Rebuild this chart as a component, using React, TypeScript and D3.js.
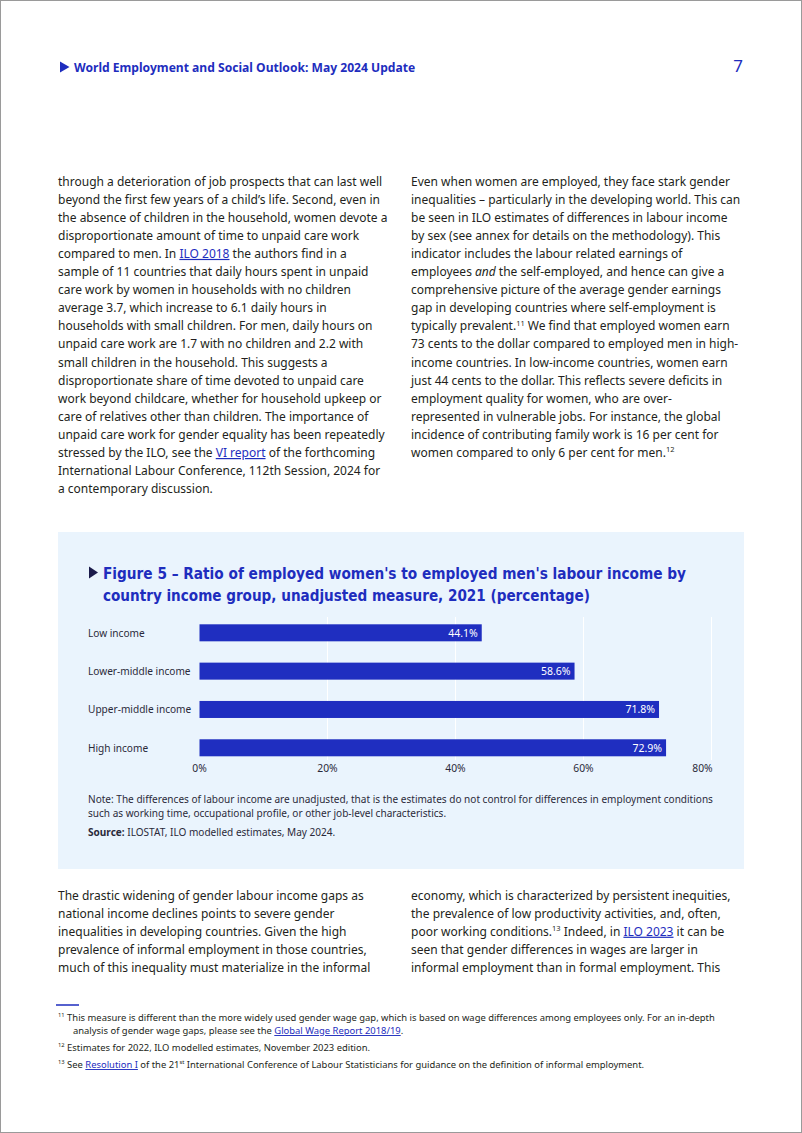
import React from "react";
import * as d3 from "d3";

const categories = ["Low income", "Lower-middle income", "Upper-middle income", "High income"];
const values = [44.1, 58.6, 71.8, 72.9];
const tickValues = [0, 20, 40, 60, 80];
const tickLabels = ["0%", "20%", "40%", "60%", "80%"];

type Seg = string | { t: string; link?: boolean; i?: boolean; sup?: boolean; b?: boolean };

const leftCol: Seg[][] = [
  ["through a deterioration of job prospects that can last well"],
  ["beyond the first few years of a child\u2019s life. Second, even in"],
  ["the absence of children in the household, women devote a"],
  ["disproportionate amount of time to unpaid care work"],
  ["compared to men. In ", { t: "ILO 2018", link: true }, " the authors find in a"],
  ["sample of 11 countries that daily hours spent in unpaid"],
  ["care work by women in households with no children"],
  ["average 3.7, which increase to 6.1 daily hours in"],
  ["households with small children. For men, daily hours on"],
  ["unpaid care work are 1.7 with no children and 2.2 with"],
  ["small children in the household. This suggests a"],
  ["disproportionate share of time devoted to unpaid care"],
  ["work beyond childcare, whether for household upkeep or"],
  ["care of relatives other than children. The importance of"],
  ["unpaid care work for gender equality has been repeatedly"],
  ["stressed by the ILO, see the ", { t: "VI report", link: true }, " of the forthcoming"],
  ["International Labour Conference, 112th Session, 2024 for"],
  ["a contemporary discussion."],
];

const rightCol: Seg[][] = [
  ["Even when women are employed, they face stark gender"],
  ["inequalities \u2013 particularly in the developing world. This can"],
  ["be seen in ILO estimates of differences in labour income"],
  ["by sex (see annex for details on the methodology). This"],
  ["indicator includes the labour related earnings of"],
  ["employees ", { t: "and", i: true }, " the self-employed, and hence can give a"],
  ["comprehensive picture of the average gender earnings"],
  ["gap in developing countries where self-employment is"],
  ["typically prevalent.", { t: "11", sup: true }, " We find that employed women earn"],
  ["73 cents to the dollar compared to employed men in high-"],
  ["income countries. In low-income countries, women earn"],
  ["just 44 cents to the dollar. This reflects severe deficits in"],
  ["employment quality for women, who are over-"],
  ["represented in vulnerable jobs. For instance, the global"],
  ["incidence of contributing family work is 16 per cent for"],
  ["women compared to only 6 per cent for men.", { t: "12", sup: true }],
];

const bottomLeft: Seg[][] = [
  ["The drastic widening of gender labour income gaps as"],
  ["national income declines points to severe gender"],
  ["inequalities in developing countries. Given the high"],
  ["prevalence of informal employment in those countries,"],
  ["much of this inequality must materialize in the informal"],
];

const bottomRight: Seg[][] = [
  ["economy, which is characterized by persistent inequities,"],
  ["the prevalence of low productivity activities, and, often,"],
  ["poor working conditions.", { t: "13", sup: true }, " Indeed, in ", { t: "ILO 2023", link: true }, " it can be"],
  ["seen that gender differences in wages are larger in"],
  ["informal employment than in formal employment. This"],
];

const BLUE = "#1e2dbe";
const TEXT = "#231f20";
const BODY_FONT = "'Noto Sans', 'Open Sans', sans-serif";

function RichLine({ segs, x, y, size, fill = TEXT, family = BODY_FONT }: { segs: Seg[]; x: number; y: number; size: number; fill?: string; family?: string }) {
  const shift = size * 0.4;
  let prevSup = false;
  return (
    <text x={x} y={y} fontSize={size} fill={fill} fontFamily={family}>
      {segs.map((s, i) => {
        const seg = typeof s === "string" ? { t: s } : s;
        let dy: number | undefined = undefined;
        if (seg.sup && !prevSup) dy = -shift;
        else if (!seg.sup && prevSup) dy = shift;
        prevSup = !!seg.sup;
        return (
          <tspan
            key={i}
            dy={dy}
            fontSize={seg.sup ? size * 0.62 : undefined}
            fill={seg.link ? BLUE : undefined}
            textDecoration={seg.link ? "underline" : undefined}
            fontStyle={seg.i ? "italic" : undefined}
            fontWeight={seg.b ? "bold" : undefined}
          >
            {seg.t}
          </tspan>
        );
      })}
    </text>
  );
}

function Column({ lines, x, y0, step, size }: { lines: Seg[][]; x: number; y0: number; step: number; size: number }) {
  return (
    <g>
      {lines.map((l, i) => (
        <RichLine key={i} segs={l} x={x} y={y0 + i * step} size={size} />
      ))}
    </g>
  );
}

export default function App() {
  const W = 802;
  const H = 1133;
  const x = d3.scaleLinear().domain([0, 80]).range([199.5, 711.5]);
  const y = d3.scaleBand<string>().domain(categories).range([624.3, 756.3]).paddingInner(0.556).paddingOuter(0);
  const bw = y.bandwidth();
  const chartFont = "'Noto Sans', 'Open Sans', sans-serif";

  const BODY_SIZE = 12.0;
  const STEP = 18.1;

  return (
    <svg
      width={W}
      height={H}
      viewBox={`0 0 ${W} ${H}`}
      style={{ position: "absolute", left: 0, top: 0, background: "#fff" }}
    >
      <rect x={0.5} y={0.5} width={W - 1} height={H - 1} fill="#fff" stroke="#9a9a9a" strokeWidth={1} />

      {/* Header */}
      <path d="M60,61.5 L69.5,67 L60,72.5 Z" fill={BLUE} />
      <text x={74} y={71.5} fontSize={12.1} fontWeight="bold" fill={BLUE} fontFamily={BODY_FONT}>
        World Employment and Social Outlook: May 2024 Update
      </text>
      <text x={743} y={72} fontSize={17} fill={BLUE} fontFamily={BODY_FONT} textAnchor="end">
        7
      </text>

      {/* Body columns */}
      <Column lines={leftCol} x={58} y0={185.5} step={STEP} size={BODY_SIZE} />
      <Column lines={rightCol} x={411} y0={185.5} step={STEP} size={BODY_SIZE} />

      {/* Figure box */}
      <rect x={58} y={532} width={686} height={337} fill="#eaf4fd" />
      <path d="M89,566.5 L98,572.5 L89,578.5 Z" fill="#1a1a4a" />
      <text x={103} y={579} fontSize={16} fontWeight="bold" fill={BLUE} fontFamily="'DejaVu Sans Condensed', 'Roboto', sans-serif" textLength={583} lengthAdjust="spacingAndGlyphs">
        Figure 5 – Ratio of employed women's to employed men's labour income by
      </text>
      <text x={103} y={601} fontSize={16} fontWeight="bold" fill={BLUE} fontFamily="'DejaVu Sans Condensed', 'Roboto', sans-serif" textLength={487} lengthAdjust="spacingAndGlyphs">
        country income group, unadjusted measure, 2021 (percentage)
      </text>

      {/* Gridlines */}
      {tickValues.slice(1).map((t) => (
        <line key={t} x1={x(t)} x2={x(t)} y1={617} y2={760} stroke="#ffffff" strokeWidth={1} />
      ))}

      {/* Bars */}
      {categories.map((c, i) => (
        <g key={c}>
          <rect x={x(0)} y={y(c)} width={x(values[i]) - x(0)} height={bw} fill="#1f2ec0" />
          <text
            x={x(values[i]) - 4}
            y={(y(c) as number) + bw / 2}
            dominantBaseline="central"
            textAnchor="end"
            fontSize={10.5}
            fill="#ffffff"
            fontFamily={chartFont}
          >
            {values[i].toFixed(1)}%
          </text>
          <text x={88} y={(y(c) as number) + bw / 2} dominantBaseline="central" fontSize={10.1} fill="#2a2a3a" fontFamily={chartFont}>
            {c}
          </text>
        </g>
      ))}

      {/* X axis tick labels */}
      {tickValues.map((t, i) => (
        <text
          key={t}
          x={i === tickValues.length - 1 ? x(t) - 9 : x(t)}
          y={768}
          dominantBaseline="central"
          textAnchor="middle"
          fontSize={10.3}
          fill="#2a2a3a"
          fontFamily={chartFont}
        >
          {tickLabels[i]}
        </text>
      ))}

      {/* Note and source */}
      <text x={88} y={802.5} fontSize={10.05} fill="#2a2a3a" fontFamily={chartFont}>
        Note: The differences of labour income are unadjusted, that is the estimates do not control for differences in employment conditions
      </text>
      <text x={88} y={816.5} fontSize={10.05} fill="#2a2a3a" fontFamily={chartFont}>
        such as working time, occupational profile, or other job-level characteristics.
      </text>
      <text x={88} y={835.5} fontSize={10.05} fill="#2a2a3a" fontFamily={chartFont}>
        <tspan fontWeight="bold">Source:</tspan> ILOSTAT, ILO modelled estimates, May 2024.
      </text>

      {/* Bottom columns */}
      <Column lines={bottomLeft} x={58} y0={899.5} step={STEP} size={BODY_SIZE} />
      <Column lines={bottomRight} x={411} y0={899.5} step={STEP} size={BODY_SIZE} />

      {/* Footnotes */}
      <line x1={56} x2={79} y1={1005} y2={1005} stroke={BLUE} strokeWidth={1.5} />
      <RichLine
        segs={[{ t: "11", sup: true }, " This measure is different than the more widely used gender wage gap, which is based on wage differences among employees only. For an in-depth"]}
        x={58}
        y={1021}
        size={9.42}
      />
      <RichLine segs={["analysis of gender wage gaps, please see the ", { t: "Global Wage Report 2018/19", link: true }, "."]} x={73} y={1034} size={9.42} />
      <RichLine segs={[{ t: "12", sup: true }, " Estimates for 2022, ILO modelled estimates, November 2023 edition."]} x={58} y={1051} size={9.42} />
      <RichLine
        segs={[
          { t: "13", sup: true },
          " See ",
          { t: "Resolution I", link: true },
          " of the 21",
          { t: "st", sup: true },
          " International Conference of Labour Statisticians for guidance on the definition of informal employment.",
        ]}
        x={58}
        y={1068}
        size={9.42}
      />
    </svg>
  );
}
